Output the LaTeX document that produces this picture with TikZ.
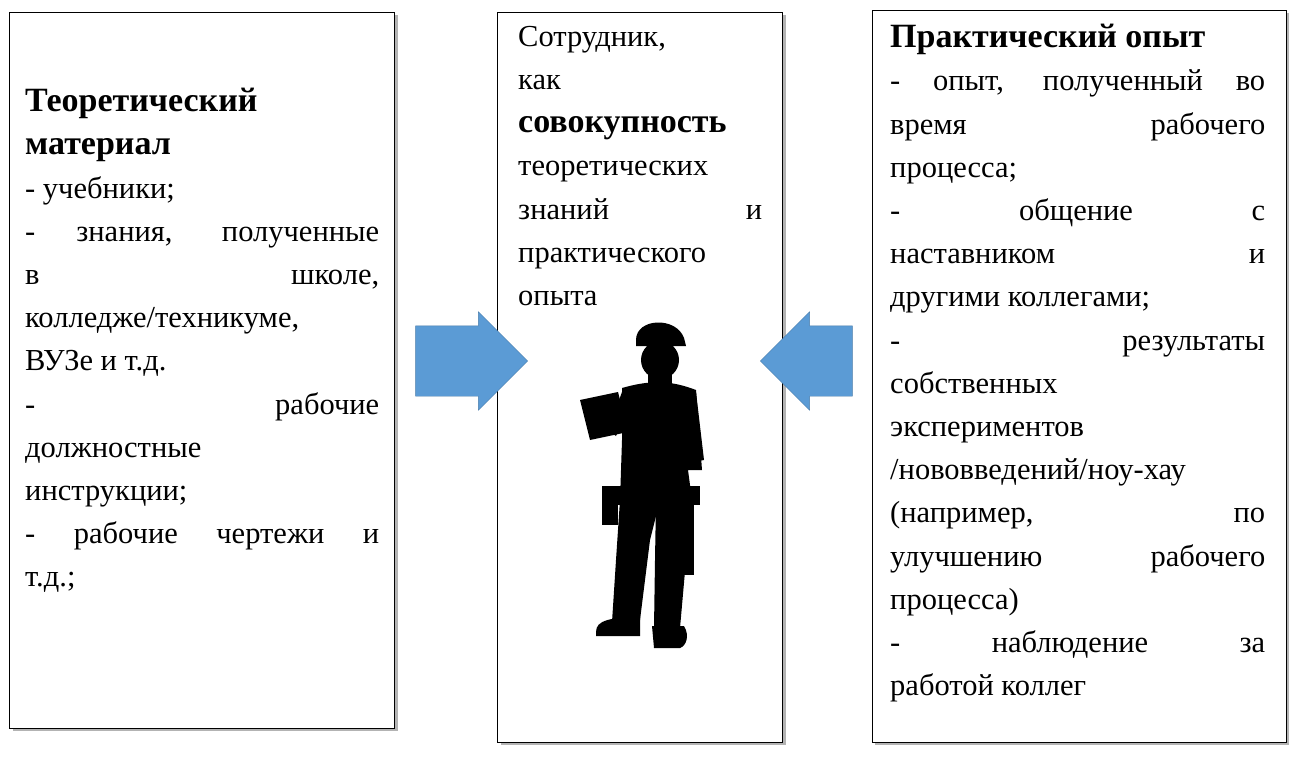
\documentclass[tikz,border=0pt]{standalone}
\usepackage{fontspec}
\setmainfont{Liberation Serif}
\usetikzlibrary{shapes.arrows,shadows}
\tikzstyle{panel} = [rectangle, draw=black, thick, fill=white, drop shadow={shadow xshift=3pt, shadow yshift=-3pt, opacity=0.6}]
\tikzstyle{txt} = [anchor=north west, inner sep=0pt, align=justify, font=\fontsize{30.5}{43.2}\selectfont]
\tikzstyle{bluearrow} = [single arrow, fill=arrowblue, draw=arrowblue!80!black, thin, minimum width=98pt, minimum height=112pt, single arrow head extend=14pt, single arrow head indent=0pt, inner xsep=0pt, inner ysep=35pt]
\definecolor{arrowblue}{HTML}{5B9BD5}
\newcommand{\hd}[1]{{\fontsize{34}{43.2}\selectfont\bfseries #1}}

\begin{document}
\begin{tikzpicture}[x=1pt,y=-1pt]
    \useasboundingbox (0,0) rectangle (1308,758);
    % boxes
    \node (left) [panel, minimum width=385pt, minimum height=716pt] at (202,370) {};
    \node (middle) [panel, minimum width=285pt, minimum height=730pt] at (640,377) {};
    \node (right) [panel, minimum width=414pt, minimum height=732pt] at (1079,376) {};

    % texts
    \node (lefttext) [txt, text width=354pt] at (25,88) {\hyphenpenalty=10000
        \hd{Теоретический}\\ \hd{материал}\\
        - учебники;\\
        - знания, полученные\linebreak в школе,\linebreak колледже/техникуме,\\ ВУЗе и т.д.\\
        - рабочие\linebreak должностные\\ инструкции;\\
        - рабочие чертежи и\linebreak т.д.;};
    \node (midtext) [txt, text width=244pt] at (518,26) {\hyphenpenalty=10000
        Сотрудник,\\ как\\ \hd{совокупность}\\ теоретических\\ знаний и\linebreak практического\\ опыта};
    \node (righttext) [txt, text width=375pt] at (890,24) {\hyphenpenalty=10000
        \hd{Практический опыт}\\
        - опыт, полученный во\linebreak время рабочего\linebreak процесса;\\
        - общение с\linebreak наставником и\linebreak другими коллегами;\\
        - результаты\linebreak собственных\\ экспериментов\\ /нововведений/ноу-хау\\ (например, по\linebreak улучшению рабочего\linebreak процесса)\\
        - наблюдение за\linebreak работой коллег};

    % arrows
    \node (arrowL) [bluearrow] at (454,361) {};
    \node (arrowR) [bluearrow, shape border rotate=180, minimum height=92pt] at (824,361) {};

    % worker silhouette
    \begin{scope}[fill=black]
        % hard hat and head
        \fill (636,340) .. controls (636,318) and (676,316) .. (684,338) -- (686,346) -- (636,346) -- cycle;
        \fill (660,360) circle (19);
        \fill (648,374) rectangle (672,392);
        % torso
        \fill (622,388) .. controls (650,380) and (670,380) .. (696,390)
            -- (702,470) -- (688,470) -- (692,500) -- (620,500) -- (622,440) -- cycle;
        % belt
        \fill (614,486) rectangle (700,505);
        \fill (602,486) rectangle (618,525);
        \fill (684,505) rectangle (694,575);
        % legs
        \fill (620,500) -- (660,500) -- (650,540) -- (640,620) -- (612,622) -- (616,560) -- cycle;
        \fill (656,500) -- (692,500) -- (686,560) -- (680,628) -- (654,628) -- (655,560) -- cycle;
        % feet
        \fill (596,632) .. controls (596,620) and (610,618) .. (640,616) -- (640,636) -- (596,636) -- cycle;
        \fill (652,626) -- (684,626) .. controls (690,636) and (686,646) .. (680,648) -- (654,648) -- cycle;
        % arms and clipboard
        \fill (622,392) -- (608,430) -- (616,436) -- (632,400) -- cycle;
        \fill (696,392) -- (704,460) -- (692,462) -- (686,400) -- cycle;
        \fill (580,400) -- (618,392) -- (628,432) -- (590,440) -- cycle;
    \end{scope}
\end{tikzpicture}
\end{document}
